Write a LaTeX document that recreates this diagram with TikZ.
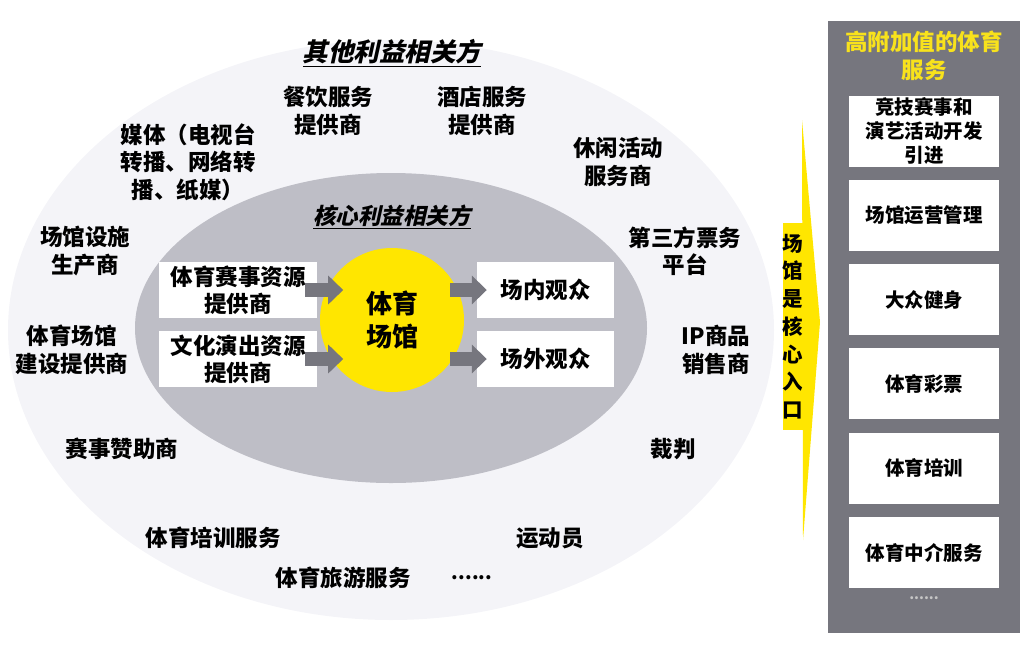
\documentclass[tikz,border=0pt]{standalone}
\usepackage{fontspec}
\setmainfont{Noto Sans CJK SC}
\newfontfamily\slantcjk{Noto Sans CJK SC}[FakeSlant=0.22]
\usetikzlibrary{arrows.meta}

\definecolor{paleGray}{HTML}{F4F4F8}
\definecolor{ringGray}{HTML}{BEBEC6}
\definecolor{panelGray}{HTML}{76767E}
\definecolor{venueYellow}{HTML}{FFE600}
\definecolor{titleYellow}{HTML}{F8E21C}

\begin{document}
\begin{tikzpicture}[
    x=1pt, y=-1pt,
    party/.style={align=center, inner sep=0pt, font=\bfseries\fontsize{22.5}{27.5}\selectfont},
    ringtitle/.style={inner sep=0pt, font=\slantcjk\bfseries\fontsize{#1}{#1}\selectfont},
    actorbox/.style={fill=white, align=center, inner sep=0pt, minimum width=#1, minimum height=56pt,
      font=\bfseries\fontsize{22.5}{27}\selectfont},
    servicebox/.style={fill=white, align=center, inner sep=0pt, minimum width=150pt, minimum height=71pt,
      font=\bfseries\fontsize{19.5}{24}\selectfont},
    flow/.style={draw=panelGray, line width=14pt, -{Triangle[width=28pt, length=15pt]}}
]

  % Define variables for better adjustability
  \def\cx{391}          % Centre of the rings (horizontal)
  \def\cy{328}          % Centre of the rings (vertical)
  \def\svcStep{84.3}    % Vertical spacing of the service boxes

  \useasboundingbox (0,0) rectangle (1022,656);

  % Outer and inner rings
  \fill[paleGray] (\cx,330) ellipse [x radius=383, y radius=290];
  \fill[ringGray] (\cx,\cy) ellipse [x radius=256, y radius=155];

  % Ring titles
  \node[ringtitle=25.5] (otherT) at (392,53) {\underline{其他利益相关方}};
  \node[ringtitle=22.5] (coreT) at (392,217) {\underline{核心利益相关方}};

  % Place the venue and the core parties
  \node[circle, fill=venueYellow, minimum size=144pt, inner sep=0pt, align=center,
        font=\bfseries\fontsize{26}{33}\selectfont] (hub) at (392,320) {体育\\场馆};
  \node[actorbox=158pt] (sportSrc) at (238,290) {体育赛事资源\\提供商};
  \node[actorbox=158pt] (showSrc)  at (238,359) {文化演出资源\\提供商};
  \node[actorbox=137pt] (onsite)   at (545.5,290) {场内观众};
  \node[actorbox=137pt] (offsite)  at (545.5,359) {场外观众};

  % Flows into and out of the venue
  \draw[flow] ([xshift=-12pt]sportSrc.east) -- ([xshift=26pt]sportSrc.east);
  \draw[flow] ([xshift=-12pt]showSrc.east) -- ([xshift=26pt]showSrc.east);
  \draw[flow] ([xshift=-14pt]hub.east |- onsite) -- ([xshift=10pt]onsite.west);
  \draw[flow] ([xshift=-14pt]hub.east |- offsite) -- ([xshift=10pt]offsite.west);

  % Other stakeholders round the outer ring
  \node[party] (catering)  at (328,111) {餐饮服务\\提供商};
  \node[party] (hotel)     at (482,111) {酒店服务\\提供商};
  \node[party] (media)     at (188,162) {媒体（电视台\\转播、网络转\\播、纸媒）};
  \node[party] (leisure)   at (618,162) {休闲活动\\服务商};
  \node[party] (facility)  at (85,251)  {场馆设施\\生产商};
  \node[party] (ticketing) at (685,251) {第三方票务\\平台};
  \node[party] (builder)   at (72,350)  {体育场馆\\建设提供商};
  \node[party] (ipGoods)   at (716,350) {IP商品\\销售商};
  \node[party] (sponsor)   at (122,449) {赛事赞助商};
  \node[party] (referee)   at (673,449) {裁判};
  \node[party] (training)  at (213,538) {体育培训服务};
  \node[party] (athlete)   at (550,538) {运动员};
  \node[party] (tourism)   at (343,578) {体育旅游服务};
  \node[party, font=\bfseries\fontsize{19}{19}\selectfont] (moreParty) at (472,578) {......};

  % Entry pointer
  \fill[venueYellow] (802,120) -- (820,322) -- (803,540) -- cycle;
  \node[fill=venueYellow, minimum width=20pt, minimum height=207pt, inner sep=0pt, align=center,
        font=\bfseries\fontsize{20.5}{27.7}\selectfont] (entry) at (793,326.5)
        {场\\馆\\是\\核\\心\\入\\口};

  % Value-added services panel
  \fill[panelGray] (828,21) rectangle (1020,633);
  \node[align=center, text=titleYellow, inner sep=0pt,
        font=\bfseries\fontsize{22.5}{28}\selectfont] (svcTitle) at (924,56) {高附加值的体育\\服务};
  \foreach \i/\txt in {1/{竞技赛事和\\演艺活动开发\\引进}, 2/场馆运营管理, 3/大众健身,
                       4/体育彩票, 5/体育培训, 6/体育中介服务}
    \node[servicebox] (svc\i) at (924,131+\svcStep*\i-\svcStep) {\txt};
  \node[text=gray!45, inner sep=0pt, font=\bfseries\fontsize{14}{14}\selectfont] (moreSvc) at (924,598) {......};

\end{tikzpicture}
\end{document}
